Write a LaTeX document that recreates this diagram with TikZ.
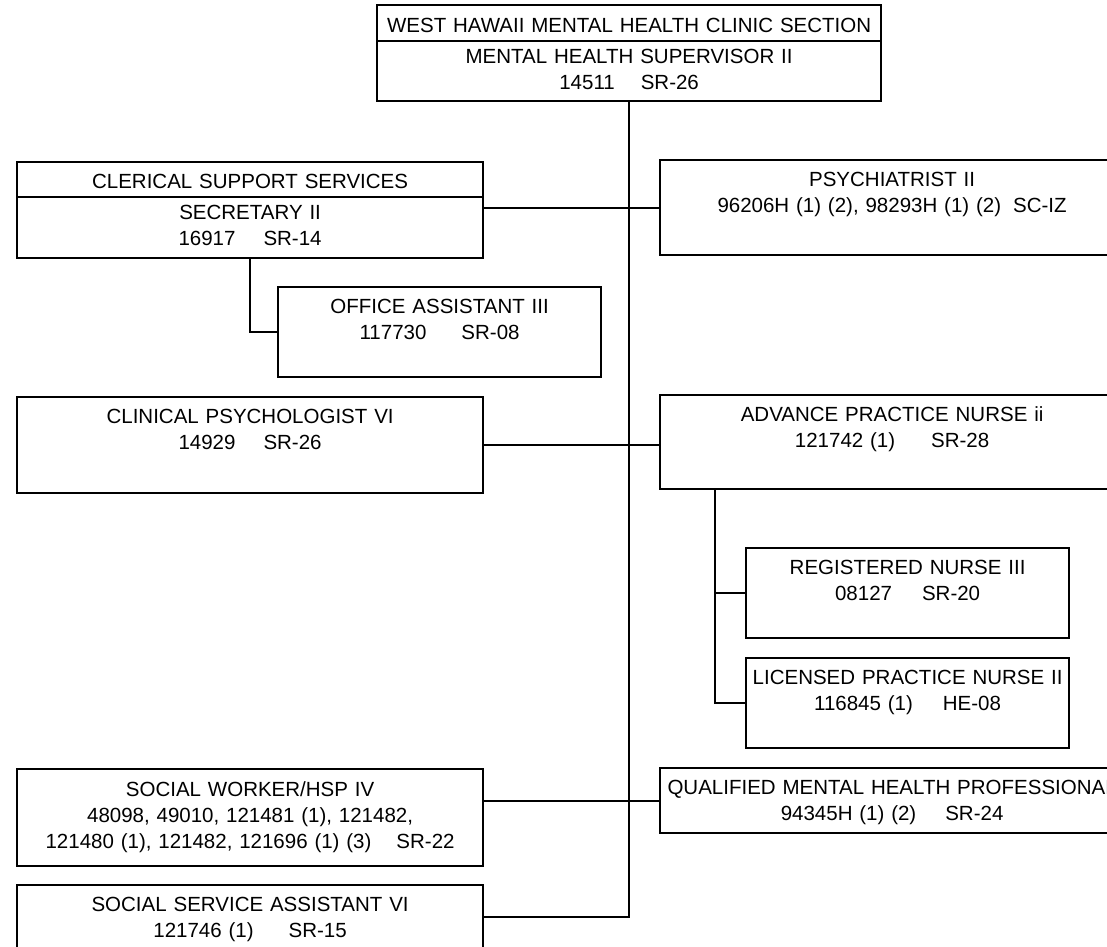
\documentclass[tikz,border=0pt]{standalone}
\usepackage{fontspec}
\setmainfont{Liberation Sans}
\newcommand{\postgap}[1][28pt]{\hspace{#1}}
\tikzstyle{post}=[draw=black,line width=2.2pt,anchor=north west,inner sep=0pt,align=center,text height=26pt,font=\fontsize{20.5}{26}\selectfont]
\tikzstyle{link}=[draw=black,line width=1.8pt]

\begin{document}
\begin{tikzpicture}[x=1pt,y=-1pt]
    \clip (0,0) rectangle (1107,946);
    % section head
    \node[post,text width=504pt,text height=27.5pt,text depth=8.5pt] (section) at (376,4) {WEST HAWAII MENTAL HEALTH CLINIC SECTION};
    \node[post,text width=504pt,text height=22.5pt,text depth=37.5pt] (mhs) at (376,40) {MENTAL HEALTH SUPERVISOR II\\14511\postgap[26pt]SR-26};
    % left column
    \node[post,text width=466pt,text height=26.5pt,text depth=8.5pt] (clerical) at (16,161) {CLERICAL SUPPORT SERVICES};
    \node[post,text width=466pt,text height=22.5pt,text depth=38.5pt] (sec) at (16,196) {SECRETARY II\\16917\postgap SR-14};
    \node[post,text width=323pt,text depth=64pt] (oa) at (277,286) {OFFICE ASSISTANT III\\117730\postgap[35pt]SR-08};
    \node[post,text width=466pt,text depth=70pt] (cp) at (16,396) {CLINICAL PSYCHOLOGIST VI\\14929\postgap SR-26};
    \node[post,text width=466pt,text height=27.5pt,text depth=69.5pt] (sw) at (16,768) {SOCIAL WORKER/HSP IV\\48098, 49010, 121481 (1), 121482,\\121480 (1), 121482, 121696 (1) (3)\postgap[25pt]SR-22};
    \node[post,text width=466pt,text height=26.5pt,text depth=37.5pt] (ssa) at (16,884) {SOCIAL SERVICE ASSISTANT VI\\121746 (1)\postgap[35pt]SR-15};
    % right column
    \node[post,text width=464pt,text depth=69pt] (psych) at (659,159) {PSYCHIATRIST II\\96206H (1) (2), 98293H (1) (2)\postgap[12pt]SC-IZ};
    \node[post,text width=464pt,text height=26.5pt,text depth=67.5pt] (apn) at (659,394) {ADVANCE PRACTICE NURSE ii\\121742 (1)\postgap[36pt]SR-28};
    \node[post,text width=323pt,text height=26.5pt,text depth=63.5pt] (rn) at (745,547) {REGISTERED NURSE III\\08127\postgap[30pt]SR-20};
    \node[post,text width=323pt,text depth=64pt] (lpn) at (745,657) {LICENSED PRACTICE NURSE II\\116845 (1)\postgap[30pt]HE-08};
    \node[post,text width=464pt,text depth=39pt] (qmhp) at (659,767) {QUALIFIED MENTAL HEALTH PROFESSIONAL\\94345H (1) (2)\postgap[29pt]SR-24};
    % connectors
    \draw[link] (mhs.south) |- (ssa.east);
    \draw[link] (psych.west) -- (psych.west -| sec.east);
    \draw[link] (sec.south) |- (oa.west);
    \draw[link] (cp.east) -- (cp.east -| apn.west);
    \draw[link] (qmhp.west) -- (qmhp.west -| sw.east);
    \coordinate (nurses) at ([xshift=56pt]apn.south west);
    \draw[link] (nurses) |- (lpn.west);
    \draw[link] (rn.west) -- (rn.west -| nurses);
\end{tikzpicture}
\end{document}
